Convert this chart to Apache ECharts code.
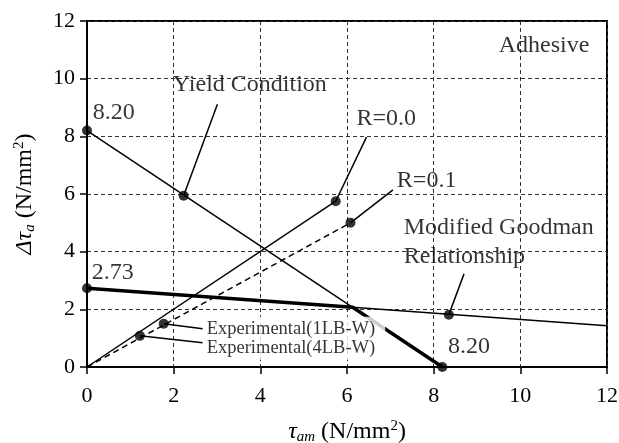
<!DOCTYPE html>
<html>
<head>
<meta charset="utf-8">
<style>
  html, body { margin: 0; padding: 0; background: #fff; }
  #chart { width: 619px; height: 443px; }
</style>
<script src="https://cdn.jsdelivr.net/npm/echarts@6/dist/echarts.min.js"></script>
</head>
<body>
<div id="chart"></div>
<script>
// Axis ticks (N/mm^2)
const xTicks = [0, 2, 4, 6, 8, 10, 12];
const yTicks = [0, 2, 4, 6, 8, 10, 12];

// Yield condition: from 8.20 on the amplitude axis to 8.20 on the mean axis
const yieldThin = [[0, 8.2], [6.13, 2.07]];
// Modified Goodman relationship, thin continuation past the envelope
const goodmanThin = [[6.13, 2.07], [12, 1.43]];
// Fatigue envelope (Goodman up to the crossing, then yield)
const envelope = [[0, 2.73], [6.13, 2.07], [8.2, 0]];
// Load paths for stress ratios
const pathR00 = [[0, 0], [5.74, 5.75]];
const pathR01 = [[0, 0], [6.08, 5.0]];

// Marked points
const markedPoints = [
  [0, 8.2], [2.23, 5.94], [5.74, 5.75], [6.08, 5.0],
  [8.35, 1.81], [0, 2.73], [8.2, 0], [1.77, 1.5], [1.22, 1.08]
];

// Leader lines from a point to its caption
const leaders = [
  [[2.23, 5.94], [3.01, 9.11]],
  [[5.74, 5.75], [6.45, 7.97]],
  [[6.08, 5.0], [7.06, 6.14]],
  [[8.35, 1.81], [8.70, 3.23]],
  [[1.77, 1.5], [2.67, 1.33]],
  [[1.22, 1.08], [2.67, 0.84]]
];

// Captions: [x, y, text]
const captions = [
  [0.13, 8.83, '8.20'],
  [1.98, 9.80, 'Yield Condition'],
  [6.22, 8.62, 'R=0.0'],
  [7.15, 6.45, 'R=0.1'],
  [9.50, 11.15, 'Adhesive'],
  [7.31, 4.32, 'Modified Goodman\nRelationship'],
  [0.11, 3.26, '2.73'],
  [8.33, 0.70, '8.20']
];
const expCaption = [2.67, 1.0, 'Experimental(1LB-W)\nExperimental(4LB-W)'];

const FONT = 'Liberation Serif';
const chart = echarts.init(document.getElementById('chart'));

function lineSeries(data, width, type) {
  return {
    type: 'line', data: data, symbol: 'none', silent: true, animation: false,
    lineStyle: { color: '#000', width: width, type: type || 'solid' }, z: 3
  };
}

const series = [
  lineSeries(yieldThin, 1.5),
  lineSeries(goodmanThin, 1.5),
  lineSeries(pathR00, 1.5),
  lineSeries(pathR01, 1.5, [6, 4]),
  lineSeries(envelope, 3.5)
];
leaders.forEach(l => series.push(lineSeries(l, 1.5)));
series.push({
  type: 'scatter', data: markedPoints, symbol: 'circle', symbolSize: 10,
  itemStyle: { color: '#000' }, animation: false, z: 5
});
series.push({
  type: 'scatter', symbolSize: 0, animation: false, z: 6,
  data: captions.map(c => ({ value: [c[0], c[1]], name: c[2] })),
  label: {
    show: true, position: 'right', distance: 0,
    formatter: p => p.name,
    fontFamily: FONT, fontSize: 24, color: '#000', lineHeight: 29
  }
});
series.push({
  type: 'scatter', symbolSize: 0, animation: false, z: 20, zlevel: 1,
  data: [{ value: [expCaption[0], expCaption[1]], name: expCaption[2] }],
  label: {
    show: true, position: 'right', distance: 0,
    formatter: p => p.name,
    fontFamily: FONT, fontSize: 18.5, color: '#000', lineHeight: 19,
    backgroundColor: '#fff', padding: [4, 10, 1, 4]
  }
});

const nameRich = {
  i: { fontFamily: FONT, fontSize: 24, fontStyle: 'italic', color: '#000' },
  sub: { fontFamily: FONT, fontSize: 15, fontStyle: 'italic', color: '#000', padding: [11, 0, 0, 0] },
  n: { fontFamily: FONT, fontSize: 24, color: '#000' },
  sup: { fontFamily: FONT, fontSize: 15, color: '#000', padding: [0, 0, 11, 0] }
};
const gridDash = { show: true, lineStyle: { color: '#333', width: 1, type: [4, 3] } };

chart.setOption({
  backgroundColor: '#fff',
  animation: false,
  grid: {
    left: 87, right: 12, top: 21, bottom: 76, outerBoundsMode: 'none',
    show: true, borderColor: '#000', borderWidth: 2
  },
  xAxis: {
    type: 'value', min: 0, max: 12, interval: 2,
    axisLine: { show: true, lineStyle: { color: '#000', width: 2 } },
    axisTick: { show: true, inside: false, length: 7, lineStyle: { color: '#000', width: 1.5 } },
    splitLine: gridDash,
    axisLabel: { fontFamily: FONT, fontSize: 22, color: '#000', margin: 18,
      formatter: v => xTicks.includes(v) ? String(v) : '' },
    name: '{i|τ}{sub|am} {n|(N/mm}{sup|2}{n|)}',
    nameLocation: 'middle', nameGap: 52, nameMoveOverlap: false,
    nameTextStyle: { fontFamily: FONT, fontSize: 24, color: '#000', rich: nameRich }
  },
  yAxis: {
    type: 'value', min: 0, max: 12, interval: 2,
    axisLine: { show: true, lineStyle: { color: '#000', width: 2 } },
    axisTick: { show: true, inside: false, length: 7, lineStyle: { color: '#000', width: 1.5 } },
    splitLine: gridDash,
    axisLabel: { fontFamily: FONT, fontSize: 22, color: '#000', margin: 12,
      formatter: v => yTicks.includes(v) ? String(v) : '' },
    name: '{i|Δτ}{sub|a} {n|(N/mm}{sup|2}{n|)}',
    nameLocation: 'middle', nameGap: 49, nameRotate: 90, nameMoveOverlap: false,
    nameTextStyle: { fontFamily: FONT, fontSize: 24, color: '#000', rich: nameRich }
  },
  series: series
});
</script>
</body>
</html>
